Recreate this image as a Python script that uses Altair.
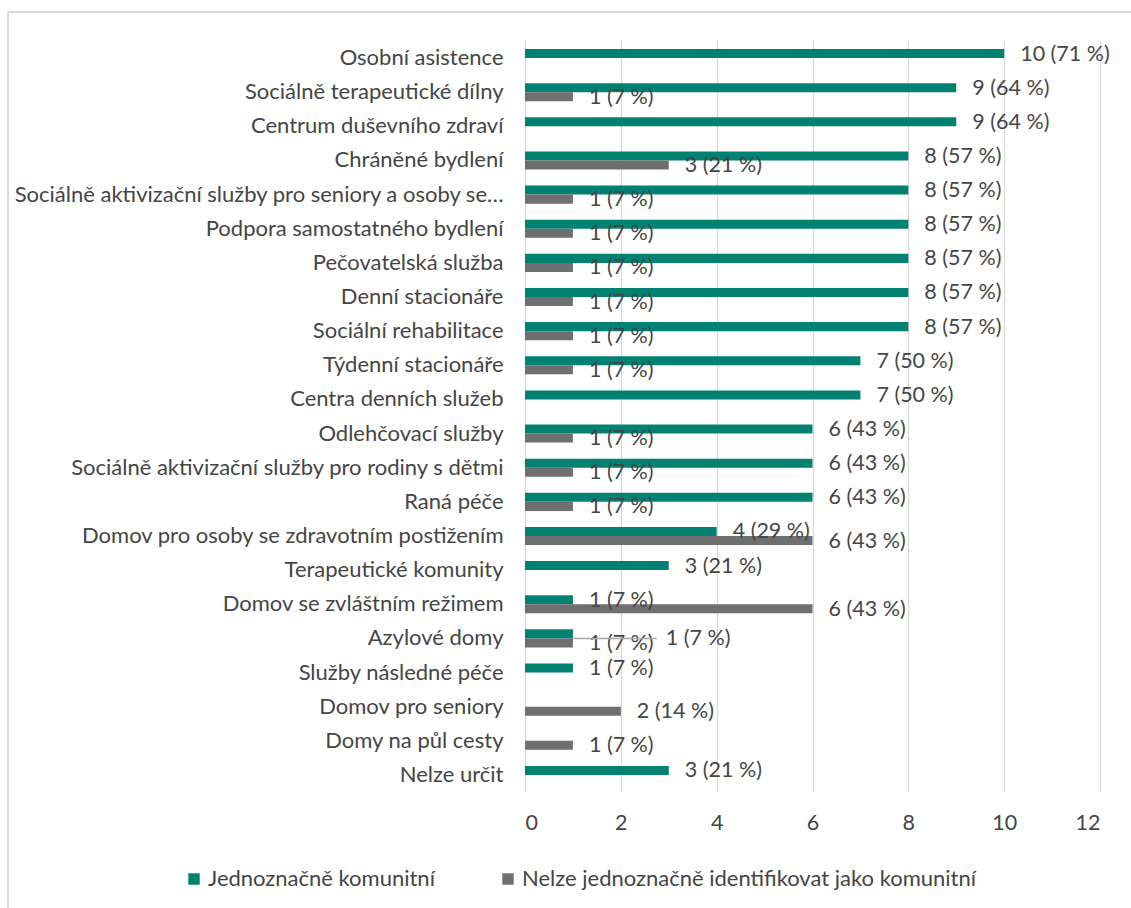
import altair as alt
import pandas as pd

categories = [
    "Osobní asistence",
    "Sociálně terapeutické dílny",
    "Centrum duševního zdraví",
    "Chráněné bydlení",
    "Sociálně aktivizační služby pro seniory a osoby se…",
    "Podpora samostatného bydlení",
    "Pečovatelská služba",
    "Denní stacionáře",
    "Sociální rehabilitace",
    "Týdenní stacionáře",
    "Centra denních služeb",
    "Odlehčovací služby",
    "Sociálně aktivizační služby pro rodiny s dětmi",
    "Raná péče",
    "Domov pro osoby se zdravotním postižením",
    "Terapeutické komunity",
    "Domov se zvláštním režimem",
    "Azylové domy",
    "Služby následné péče",
    "Domov pro seniory",
    "Domy na půl cesty",
    "Nelze určit",
]
series = ["Jednoznačně komunitní", "Nelze jednoznačně identifikovat jako komunitní"]

komunitni = [10, 9, 9, 8, 8, 8, 8, 8, 8, 7, 7, 6, 6, 6, 4, 3, 1, 1, 1, None, None, 3]
komunitni_pct = [71, 64, 64, 57, 57, 57, 57, 57, 57, 50, 50, 43, 43, 43, 29, 21, 7, 7, 7, None, None, 21]
nelze = [None, 1, None, 3, 1, 1, 1, 1, 1, 1, None, 1, 1, 1, 6, None, 6, 1, None, 2, 1, None]
nelze_pct = [None, 7, None, 21, 7, 7, 7, 7, 7, 7, None, 7, 7, 7, 43, None, 43, 7, None, 14, 7, None]

# label of this bar is moved aside in the original, with a leader line
moved_label = ("Azylové domy", "Jednoznačně komunitní")

colors = ["#008272", "#6f6f6f"]

rows = []
for cat, v1, p1, v2, p2 in zip(categories, komunitni, komunitni_pct, nelze, nelze_pct):
    for s, v, p in ((series[0], v1, p1), (series[1], v2, p2)):
        if v is not None:
            rows.append({"cat": cat, "series": s, "value": v, "label": f"{v} ({p} %)",
                         "moved": (cat, s) == moved_label})
df = pd.DataFrame(rows)

FONT = "Lato"
TXT = "#454545"
FS = 21.5
FSY = 22

y = alt.Y("cat:N", sort=categories, title=None,
          scale=alt.Scale(paddingInner=0.47, paddingOuter=0.235),
          axis=alt.Axis(labelFontSize=FSY, labelColor=TXT, labelFont=FONT, labelPadding=22,
                        ticks=False, domain=False, labelLimit=560))
yoff = alt.YOffset("series:N", sort=series, scale=alt.Scale(domain=series, paddingInner=0, paddingOuter=0))

bars = alt.Chart(df).mark_bar().encode(
    x=alt.X("value:Q", title=None, scale=alt.Scale(domain=[0, 12]),
            axis=alt.Axis(values=[0, 2, 4, 6, 8, 10, 12], ticks=False, domain=False,
                          labelFontSize=FS, labelColor=TXT, labelFont=FONT, labelPadding=20,
                          gridColor="#d9d9d9", gridWidth=1.3)),
    y=y,
    yOffset=yoff,
    color=alt.Color("series:N", sort=series,
                    scale=alt.Scale(domain=series, range=colors),
                    legend=alt.Legend(title=None, orient="none", direction="horizontal",
                                      legendX=-342, legendY=827, symbolType="square",
                                      symbolSize=130, symbolStrokeWidth=0,
                                      labelFontSize=FSY, labelColor=TXT, labelFont=FONT,
                                      labelLimit=600, columnPadding=62, symbolOffset=0,
                                      labelOffset=3)),
)

labels = alt.Chart(df).transform_filter("!datum.moved").mark_text(
    align="left", baseline="middle", dx=16, dy=1, fontSize=FS, color=TXT, font=FONT).encode(
    x="value:Q",
    y=alt.Y("cat:N", sort=categories),
    yOffset=alt.YOffset("series:N", sort=series),
    text="label:N",
)

moved = alt.Chart(df).transform_filter("datum.moved").transform_calculate(
    lx="datum.value + 1.75")
leader = moved.mark_rule(color="#a6a6a6", strokeWidth=1.5).encode(
    x="value:Q", x2="lx:Q", y=alt.Y("cat:N", sort=categories, bandPosition=0.5))
moved_text = moved.mark_text(align="left", baseline="middle", dx=9, dy=1, fontSize=FS,
                             color=TXT, font=FONT).encode(
    x="lx:Q", y=alt.Y("cat:N", sort=categories, bandPosition=0.5), text="label:N")

# light frame of the chart area (left and top edges are visible)
frame_left = alt.Chart(df).mark_rule(color="#d9d9d9", strokeWidth=1.5).encode(
    x=alt.value(-517), y=alt.value(-29), y2=alt.value(900))
frame_top = alt.Chart(df).mark_rule(color="#d9d9d9", strokeWidth=1.5).encode(
    x=alt.value(-517), x2=alt.value(700), y=alt.value(-29))

chart = alt.layer(frame_left, frame_top, bars, labels, leader, moved_text).properties(
    width=575, height=751,
    autosize=alt.AutoSizeParams(type="none"),
    padding={"left": 525, "top": 41, "right": 31, "bottom": 116},
).configure_view(stroke=None).configure_axis(grid=True).configure_axisY(grid=False)

chart.save("out.html", embed_options={"renderer": "svg", "actions": False})
